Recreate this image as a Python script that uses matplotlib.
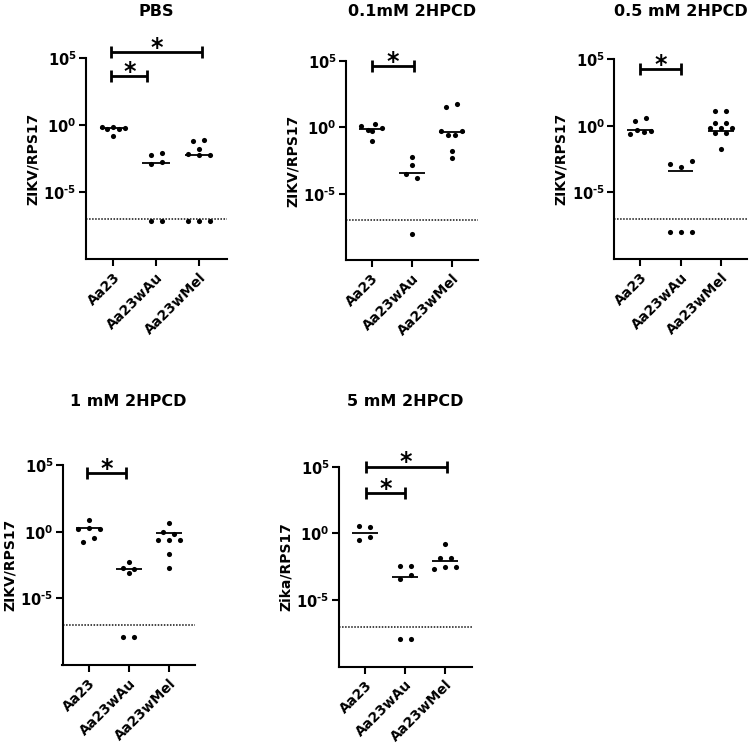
import matplotlib
matplotlib.use("Agg")
import matplotlib.pyplot as plt
import numpy as np

plt.rcParams['font.family'] = ['DejaVu Sans']
plt.rcParams['font.weight'] = 'bold'
plt.rcParams['mathtext.fontset'] = 'dejavusans'

W, H = 749, 745

categories = ['Aa23', 'Aa23wAu', 'Aa23wMel']
titles = ['PBS', '0.1mM 2HPCD', '0.5 mM 2HPCD', '1 mM 2HPCD', '5 mM 2HPCD']
ylabels = ['ZIKV/RPS17', 'ZIKV/RPS17', 'ZIKV/RPS17', 'ZIKV/RPS17', 'Zika/RPS17']
ytick_exponents = [5, 0, -5]
detection_limit_log10 = -7.0

# log10(ZIKV/RPS17) values, per group (Aa23, Aa23wAu, Aa23wMel)
pbs_log10 = [
    [-0.12, -0.27, -0.12, -0.27, -0.22, -0.82],
    [-2.24, -2.06, -2.93, -2.76, -7.15, -7.15],
    [-1.20, -1.07, -1.77, -2.15, -2.25, -2.25, -7.15, -7.15, -7.15],
]
hpcd01_log10 = [
    [0.08, -0.23, 0.28, -0.05, -0.30, -1.03],
    [-2.24, -2.87, -3.50, -3.80, -8.02],
    [1.53, 1.74, -0.30, -0.55, -0.55, -0.30, -1.79, -2.29],
]
hpcd05_log10 = [
    [0.35, 0.60, -0.60, -0.32, -0.45, -0.38],
    [-2.90, -3.08, -2.65, -7.97, -7.97, -7.97],
    [1.10, 1.10, 0.20, 0.20, -0.15, -0.15, -0.15, -0.50, -0.50, -1.77],
]
hpcd1_log10 = [
    [0.85, 0.17, 0.25, 0.17, -0.78, -0.50],
    [-2.25, -2.70, -2.83, -3.13, -7.90, -7.90],
    [0.68, 0.00, -0.20, -0.65, -0.65, -0.65, -1.70, -2.70],
]
hpcd5_log10 = [
    [0.57, 0.45, -0.50, -0.30],
    [-2.43, -2.43, -3.45, -3.15, -7.95, -7.95],
    [-0.83, -1.83, -1.83, -2.68, -2.50, -2.50],
]
panel_values = [pbs_log10, hpcd01_log10, hpcd05_log10, hpcd1_log10, hpcd5_log10]

# horizontal line (group centre) values, log10
pbs_centre = [-0.22, -2.81, -2.20]
hpcd01_centre = [-0.15, -3.45, -0.35]
hpcd05_centre = [-0.32, -3.38, -0.37]
hpcd1_centre = [0.30, -2.83, -0.08]
hpcd5_centre = [0.00, -3.25, -2.08]
panel_centres = [pbs_centre, hpcd01_centre, hpcd05_centre, hpcd1_centre, hpcd5_centre]

# significance brackets: (from group, to group, log10 height)
pbs_sig = [(-0.05, 0.80, 3.68), (-0.05, 2.08, 5.48)]
hpcd01_sig = [(0.0, 1.06, 4.63)]
hpcd05_sig = [(0.0, 1.00, 4.24)]
hpcd1_sig = [(-0.03, 0.92, 4.37)]
hpcd5_sig = [(0.03, 0.99, 3.00), (0.03, 2.03, 5.00)]
panel_sigs = [pbs_sig, hpcd01_sig, hpcd05_sig, hpcd1_sig, hpcd5_sig]

# layout in pixels: (left, right, top, bottom)
panel_px = [
    (85.5, 226.5, 58.3, 259.0),
    (345.5, 478.0, 61.0, 260.0),
    (614.0, 747.0, 59.3, 259.0),
    (62.5, 195.0, 465.0, 665.0),
    (338.5, 471.5, 466.7, 666.7),
]
title_y_px = [12, 12, 12, 401, 401]

XLIM = (-0.65, 2.65)
YLIM_LOG = (-10, 5)


def row_offsets(vals, px_per_unit, thr=0.32):
    rows, cur = [], []
    for i, v in enumerate(vals):
        if cur and abs(v - vals[cur[0]]) <= thr:
            cur.append(i)
        else:
            if cur:
                rows.append(cur)
            cur = [i]
    if cur:
        rows.append(cur)
    offs = np.zeros(len(vals))
    for r in rows:
        n = len(r)
        s = 11.0 if n <= 3 else (7.0 if n == 4 else 5.8)
        for k, i in enumerate(r):
            offs[i] = (k - (n - 1) / 2) * s / px_per_unit
    return offs


def exp_label(e):
    s = str(e).replace('-', '\u2010')
    return r'$\mathbf{10^{%s}}$' % s


fig = plt.figure(figsize=(W / 100, H / 100), dpi=100)

for p in range(5):
    l, r, t, b = panel_px[p]
    ax = fig.add_axes([l / W, 1 - b / H, (r - l) / W, (b - t) / H])
    ax.set_yscale('log')
    ax.set_xlim(*XLIM)
    ax.set_ylim(10.0 ** YLIM_LOG[0], 10.0 ** YLIM_LOG[1])
    px_per_unit = (r - l) / (XLIM[1] - XLIM[0])

    for g, vals in enumerate(panel_values[p]):
        offs = row_offsets(vals, px_per_unit)
        ax.plot(g + offs, 10.0 ** np.array(vals), 'o', color='black',
                markersize=3.7, markeredgewidth=0, clip_on=False, zorder=3)
        c = panel_centres[p][g]
        ax.plot([g - 0.32, g + 0.32], [10.0 ** c, 10.0 ** c], color='black',
                lw=1.3, solid_capstyle='butt', zorder=4)

    ax.axhline(10.0 ** detection_limit_log10, color='#111111', lw=1.1,
               linestyle=(0, (1, 1)), zorder=2)

    for (x0, x1, yl) in panel_sigs[p]:
        yv = 10.0 ** yl
        ax.plot([x0, x1], [yv, yv], color='black', lw=2.0, clip_on=False,
                solid_capstyle='butt')
        ax.plot([x0, x1], [yv, yv], linestyle='none', marker='|', color='black',
                markersize=8, markeredgewidth=2.0, clip_on=False)
        ax.annotate('*', xy=((x0 + x1) / 2, yv), xytext=(0, -2),
                    textcoords='offset points', ha='center', va='baseline',
                    fontsize=17, fontweight='bold', annotation_clip=False)

    for side in ('top', 'right'):
        ax.spines[side].set_visible(False)
    for side in ('left', 'bottom'):
        ax.spines[side].set_linewidth(1.5)

    ax.set_yticks([10.0 ** e for e in ytick_exponents])
    ax.set_yticklabels([exp_label(e) for e in ytick_exponents])
    ax.yaxis.set_minor_locator(matplotlib.ticker.NullLocator())
    ax.tick_params(axis='y', which='major', length=5, width=1.5, pad=1.5,
                   labelsize=10.5)
    ax.set_xticks(range(len(categories)))
    ax.set_xticklabels(categories, rotation=45, ha='right', va='top',
                       rotation_mode='anchor', fontsize=10, fontweight='bold')
    ax.tick_params(axis='x', length=5, width=1.5, pad=3)
    ax.set_ylabel(ylabels[p], fontsize=10, fontweight='bold')
    ax.yaxis.set_label_coords(-46.0 / (r - l), 0.5)

    fig.text((l + r) / 2 / W, 1 - title_y_px[p] / H, titles[p], ha='center',
             va='center', fontsize=11.5, fontweight='bold')

fig.savefig('out.png', dpi=100)
